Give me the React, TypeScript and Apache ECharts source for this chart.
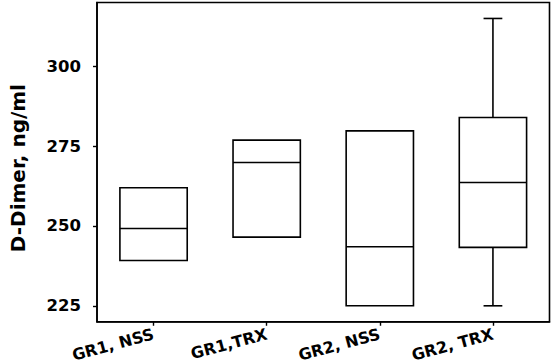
import React, { useEffect, useRef } from "react";
import * as echarts from "echarts";

const categories = ["GR1, NSS", "GR1,TRX", "GR2, NSS", "GR2, TRX"];
const whiskerLow = [239.2, 246.5, 225, 225];
const q1 = [239.2, 246.5, 225, 243.3];
const median = [249.2, 269.9, 243.5, 263.6];
const q3 = [262, 276.9, 279.8, 284];
const whiskerHigh = [262, 276.9, 279.8, 315];
const yTicks = [225, 250, 275, 300];

const FONT = "DejaVu Sans";

export default function App() {
  const ref = useRef<HTMLDivElement>(null);
  useEffect(() => {
    if (!ref.current) return;
    const chart = echarts.init(ref.current, undefined, { renderer: "svg" });
    const data = categories.map((_, i) => [i, whiskerLow[i], q1[i], median[i], q3[i], whiskerHigh[i]]);
    const lw = 1.6;
    chart.setOption({
      animation: false,
      grid: {
        left: 92.5,
        top: 2.5,
        right: 3.5,
        bottom: 41.5,
        show: true,
        borderColor: "#000",
        borderWidth: 1.6,
        backgroundColor: "transparent",
      },
      xAxis: {
        type: "category",
        data: categories,
        boundaryGap: true,
        axisLine: { show: true, lineStyle: { color: "#000", width: 1.6 } },
        axisTick: { show: true, alignWithLabel: true, length: 4, lineStyle: { color: "#000", width: 1.4 } },
        axisLabel: {
          interval: 0,
          rotate: 15,
          margin: 12,
          color: "#000",
          fontFamily: FONT,
          fontWeight: "bold",
          fontSize: 16,
        },
        splitLine: { show: false },
      },
      yAxis: {
        type: "value",
        min: 220,
        max: 320,
        name: "D-Dimer, ng/ml",
        nameLocation: "middle",
        nameGap: 69,
        nameTextStyle: {
          color: "#000",
          fontFamily: FONT,
          fontWeight: "bold",
          fontSize: 20,
          padding: [0, 12, 0, 0],
        },
        axisLine: { show: true, lineStyle: { color: "#000", width: 1.6 } },
        axisTick: { show: true, length: 4, customValues: yTicks, lineStyle: { color: "#000", width: 1.4 } },
        axisLabel: {
          customValues: yTicks,
          margin: 16,
          color: "#000",
          fontFamily: FONT,
          fontWeight: "bold",
          fontSize: 16.5,
        },
        splitLine: { show: false },
      },
      series: [
        {
          type: "custom",
          data,
          encode: { x: 0, y: [1, 2, 3, 4, 5] },
          renderItem: (params: any, api: any) => {
            const x = api.value(0);
            const lo = api.value(1);
            const b1 = api.value(2);
            const md = api.value(3);
            const b3 = api.value(4);
            const hi = api.value(5);
            const band = api.size([1, 0])[0];
            const bw = band * 0.595;
            const cw = band * 0.166;
            const pLo = api.coord([x, lo]);
            const p1 = api.coord([x, b1]);
            const pm = api.coord([x, md]);
            const p3 = api.coord([x, b3]);
            const pHi = api.coord([x, hi]);
            const cx = p1[0];
            const style = { stroke: "#000", lineWidth: lw, fill: "none" };
            const children: any[] = [
              {
                type: "rect",
                shape: { x: cx - bw / 2, y: p3[1], width: bw, height: p1[1] - p3[1] },
                style: { ...style },
              },
              {
                type: "line",
                shape: { x1: cx - bw / 2, y1: pm[1], x2: cx + bw / 2, y2: pm[1] },
                style: { ...style },
              },
            ];
            if (hi > b3) {
              children.push(
                { type: "line", shape: { x1: cx, y1: p3[1], x2: cx, y2: pHi[1] }, style: { ...style } },
                { type: "line", shape: { x1: cx - cw / 2, y1: pHi[1], x2: cx + cw / 2, y2: pHi[1] }, style: { ...style } }
              );
            }
            if (lo < b1) {
              children.push(
                { type: "line", shape: { x1: cx, y1: p1[1], x2: cx, y2: pLo[1] }, style: { ...style } },
                { type: "line", shape: { x1: cx - cw / 2, y1: pLo[1], x2: cx + cw / 2, y2: pLo[1] }, style: { ...style } }
              );
            }
            return { type: "group", children };
          },
        },
      ],
    });
    return () => chart.dispose();
  }, []);
  return (
    <div
      ref={ref}
      style={{ position: "fixed", left: 0, top: 0, width: 553, height: 364, background: "#fff" }}
    />
  );
}
